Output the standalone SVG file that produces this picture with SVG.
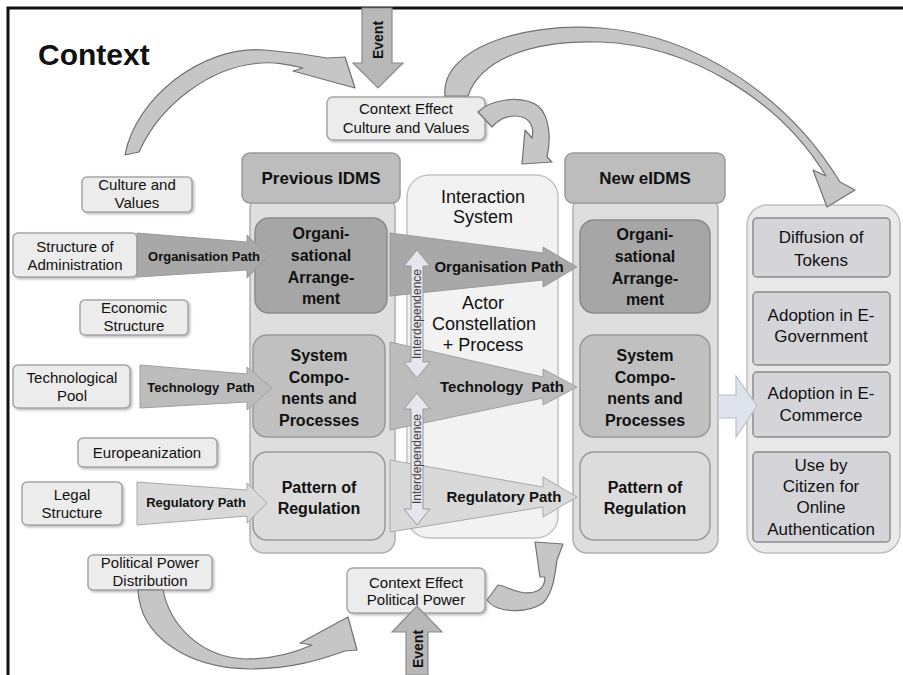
<svg xmlns="http://www.w3.org/2000/svg" width="903" height="675" viewBox="0 0 903 675">
  <defs>
    <filter id="shadow" x="-10%" y="-10%" width="130%" height="140%">
      <feDropShadow dx="1.5" dy="1.5" stdDeviation="1" flood-color="#888" flood-opacity="0.6"/>
    </filter>
    <style>
      text { font-family: "Liberation Sans", Arial, sans-serif; fill: #111; text-anchor: middle; }
      .t15 { font-size: 15px; }
      .t17 { font-size: 17px; }
      .t18 { font-size: 18px; }
      .b16 { font-size: 16px; font-weight: bold; }
      .b17 { font-size: 17px; font-weight: bold; }
      .lbl13 { font-size: 13px; font-weight: bold; }
      .lbl15 { font-size: 15px; font-weight: bold; }
      .dep { font-size: 12px; fill: #444; }
      .evt { font-size: 14px; font-weight: bold; }
      .ctx { fill: #ececec; stroke: #a6a6a6; stroke-width: 1.5; filter: url(#shadow); }
      .col { fill: #dedede; stroke: #b0b0b0; stroke-width: 1.5; }
      .hdr { fill: #bdbdbd; stroke: #999; stroke-width: 1.5; }
      .dark { fill: #a6a6a6; stroke: #8a8a8a; stroke-width: 1.5; }
      .mid { fill: #c0c0c0; stroke: #999; stroke-width: 1.5; }
      .light { fill: #dcdcdc; stroke: #9a9a9a; stroke-width: 1.5; }
      .inter { fill: #f2f2f2; stroke: #c4c4c4; stroke-width: 1.5; }
      .outc { fill: #e9e9e9; stroke: #c0c0c0; stroke-width: 1.5; }
      .outb { fill: #d5d5d9; stroke: #8c8c8c; stroke-width: 1.5; }
      .curve { fill: #c6c6c6; stroke: #727272; stroke-width: 1.2; stroke-linejoin: round; }
      .pdark { fill: #a8a8a8; stroke: #999; stroke-width: 1; }
      .pmid { fill: #bcbcbc; stroke: #a0a0a0; stroke-width: 1; }
      .plight { fill: #d9d9d9; stroke: #a8a8a8; stroke-width: 1; }
      .evarrow { fill: #b8b8b8; stroke: #8a8a8a; stroke-width: 1.2; }
      .dbl { fill: #e6e6ee; stroke: #999; stroke-width: 1; }
      .big { fill: #dfe4ec; stroke: #b8c0cc; stroke-width: 1.2; }
    </style>
  </defs>

  <rect width="903" height="675" fill="#fff"/>
  <!-- frame -->
  <path d="M8,675 V8 H903" fill="none" stroke="#111" stroke-width="3"/>

  <text x="38" y="65" style="font-size:30px;font-weight:bold;text-anchor:start">Context</text>

  <!-- context factors -->
  <g id="culture-values">
    <rect class="ctx" x="82" y="177" width="110" height="35" rx="5"/>
    <text class="t15" x="137" y="190">Culture and</text>
    <text class="t15" x="137" y="208">Values</text>
  </g>
  <g id="structure-administration">
    <rect class="ctx" x="13" y="233" width="124" height="44" rx="5"/>
    <text class="t15" x="75" y="252">Structure of</text>
    <text class="t15" x="75" y="270">Administration</text>
  </g>
  <g id="economic-structure">
    <rect class="ctx" x="80" y="300" width="108" height="35" rx="5"/>
    <text class="t15" x="134" y="313">Economic</text>
    <text class="t15" x="134" y="331">Structure</text>
  </g>
  <g id="technological-pool">
    <rect class="ctx" x="13" y="365" width="117" height="43" rx="5"/>
    <text class="t15" x="72" y="383">Technological</text>
    <text class="t15" x="72" y="401">Pool</text>
  </g>
  <g id="europeanization">
    <rect class="ctx" x="78" y="438" width="139" height="29" rx="5"/>
    <text class="t15" x="147" y="458">Europeanization</text>
  </g>
  <g id="legal-structure">
    <rect class="ctx" x="22" y="482" width="100" height="43" rx="5"/>
    <text class="t15" x="72" y="500">Legal</text>
    <text class="t15" x="72" y="518">Structure</text>
  </g>
  <g id="political-power-distribution">
    <rect class="ctx" x="88" y="555" width="124" height="35" rx="5"/>
    <text class="t15" x="150" y="568">Political Power</text>
    <text class="t15" x="150" y="586">Distribution</text>
  </g>
  <g id="effect-culture">
    <rect class="ctx" x="327" y="97" width="158" height="43" rx="6"/>
    <text class="t15" x="406" y="114">Context Effect</text>
    <text class="t15" x="406" y="133">Culture and Values</text>
  </g>
  <g id="effect-political">
    <rect class="ctx" x="347" y="568" width="138" height="45" rx="6"/>
    <text class="t15" x="416" y="588">Context Effect</text>
    <text class="t15" x="416" y="605">Political Power</text>
  </g>

  <!-- previous IDMS column -->
  <g id="previous-idms">
    <rect class="col" x="250" y="195" width="145" height="358" rx="14"/>
    <rect class="hdr" x="242" y="153" width="158" height="50" rx="8"/>
    <text class="b17" x="321" y="184">Previous IDMS</text>
  </g>
  <g id="prev-organisation">
    <rect class="dark" x="255" y="218" width="132" height="95" rx="14"/>
    <text class="b16" x="321" y="239">Organi-</text>
    <text class="b16" x="321" y="261">sational</text>
    <text class="b16" x="321" y="283">Arrange-</text>
    <text class="b16" x="321" y="304">ment</text>
  </g>
  <g id="prev-system">
    <rect class="mid" x="253" y="335" width="132" height="102" rx="14"/>
    <text class="b16" x="319" y="361">System</text>
    <text class="b16" x="319" y="383">Compo-</text>
    <text class="b16" x="319" y="404">nents and</text>
    <text class="b16" x="319" y="426">Processes</text>
  </g>
  <g id="prev-regulation">
    <rect class="light" x="253" y="452" width="132" height="88" rx="14"/>
    <text class="b16" x="319" y="493">Pattern of</text>
    <text class="b16" x="319" y="514">Regulation</text>
  </g>

  <!-- interaction system -->
  <g id="interaction-system">
    <rect class="inter" x="407" y="175" width="151" height="363" rx="22"/>
    <text class="t18" x="483" y="203">Interaction</text>
    <text class="t18" x="483" y="223">System</text>
    <text class="t18" x="483" y="309">Actor</text>
    <text class="t18" x="484" y="330">Constellation</text>
    <text class="t18" x="483" y="351">+ Process</text>
  </g>

  <!-- new eIDMS column -->
  <g id="new-eidms">
    <rect class="col" x="573" y="195" width="145" height="358" rx="14"/>
    <rect class="hdr" x="565" y="153" width="160" height="50" rx="8"/>
    <text class="b17" x="645" y="184">New eIDMS</text>
  </g>
  <g id="new-organisation">
    <rect class="dark" x="580" y="220" width="130" height="93" rx="14"/>
    <text class="b16" x="645" y="240">Organi-</text>
    <text class="b16" x="645" y="262">sational</text>
    <text class="b16" x="645" y="284">Arrange-</text>
    <text class="b16" x="645" y="305">ment</text>
  </g>
  <g id="new-system">
    <rect class="mid" x="580" y="335" width="130" height="102" rx="14"/>
    <text class="b16" x="645" y="361">System</text>
    <text class="b16" x="645" y="383">Compo-</text>
    <text class="b16" x="645" y="404">nents and</text>
    <text class="b16" x="645" y="426">Processes</text>
  </g>
  <g id="new-regulation">
    <rect class="light" x="580" y="452" width="130" height="88" rx="14"/>
    <text class="b16" x="645" y="493">Pattern of</text>
    <text class="b16" x="645" y="514">Regulation</text>
  </g>

  <!-- outcomes -->
  <g id="outcomes">
    <rect class="outc" x="747" y="205" width="153" height="348" rx="20"/>
  </g>
  <g id="diffusion-tokens">
    <rect class="outb" x="753" y="218" width="137" height="59" rx="4"/>
    <text class="t17" x="821" y="243">Diffusion of</text>
    <text class="t17" x="821" y="266">Tokens</text>
  </g>
  <g id="adoption-egov">
    <rect class="outb" x="753" y="292" width="137" height="73" rx="4"/>
    <text class="t17" x="821" y="321">Adoption in E-</text>
    <text class="t17" x="821" y="342">Government</text>
  </g>
  <g id="adoption-ecom">
    <rect class="outb" x="753" y="372" width="137" height="65" rx="4"/>
    <text class="t17" x="821" y="399">Adoption in E-</text>
    <text class="t17" x="821" y="421">Commerce</text>
  </g>
  <g id="citizen-use">
    <rect class="outb" x="753" y="452" width="137" height="90" rx="4"/>
    <text class="t17" x="821" y="471">Use by</text>
    <text class="t17" x="821" y="492">Citizen for</text>
    <text class="t17" x="821" y="513">Online</text>
    <text class="t17" x="821" y="535">Authentication</text>
  </g>

  <!-- connectors -->
  <g id="connectors">
    <!-- paths from context into previous IDMS -->
    <polygon class="pdark" points="137,233 247,242 247,235 268,256 247,278 247,270 137,277"/>
    <text class="lbl13" x="204" y="261">Organisation Path</text>
    <polygon class="pmid" points="140,365 247,374 247,367 272,388 247,410 247,402 140,408"/>
    <text class="lbl13" x="201" y="392" xml:space="preserve">Technology  Path</text>
    <polygon class="plight" points="137,482 247,490 247,483 267,503 247,523 247,516 137,525"/>
    <text class="lbl13" x="196" y="507">Regulatory Path</text>

    <!-- paths through the interaction system -->
    <polygon class="pdark" points="390,233 543,253 543,247 577,267 543,287 543,280 390,296"/>
    <text class="lbl15" x="499" y="272">Organisation Path</text>
    <polygon class="pmid" points="390,342 543,377 543,369 577,387 543,405 543,398 390,430"/>
    <text class="lbl15" x="502" y="392" xml:space="preserve">Technology  Path</text>
    <polygon class="plight" points="390,460 543,487 543,477 577,497 543,517 543,507 390,532"/>
    <text class="lbl15" x="504" y="502">Regulatory Path</text>

    <!-- interdependence arrows -->
    <polygon class="dbl" points="417,250 430,266 423,266 423,362 430,362 417,378 404,362 411,362 411,266 404,266"/>
    <text class="dep" transform="translate(417,314) rotate(-90)" x="0" y="4">Interdependence</text>
    <polygon class="dbl" points="417,393 430,409 423,409 423,509 430,509 417,525 404,509 411,509 411,409 404,409"/>
    <text class="dep" transform="translate(417,459) rotate(-90)" x="0" y="4">Interdependence</text>

    <!-- new eIDMS to outcomes -->
    <polygon class="big" points="718,395 736,395 736,376 757,406 736,437 736,418 718,418"/>

    <!-- events -->
    <polygon class="evarrow" points="362,8 392,8 392,63 403,63 378,88 353,63 362,63"/>
    <text class="evt" transform="translate(378,40) rotate(-90)" x="0" y="5">Event</text>
    <polygon class="evarrow" points="406,675 406,632 392,632 417,606 442,632 428,632 428,675"/>
    <text class="evt" transform="translate(418,649) rotate(-90)" x="0" y="5">Event</text>

    <!-- culture and values to context effect -->
    <path class="curve" d="M125,155 C135,100 200,45 265,50 C290,52 310,55 327,58 L345,57 L355,88 L293,71 L303,68 C285,64 275,62 262,63 C210,66 160,105 139,152 Z"/>
    <!-- context effect culture to outcomes -->
    <path class="curve" d="M445,96 C440,50 520,22 600,28 C700,35 790,100 840,182 L855,190 L827,207 L813,170 L826,176 C780,100 690,45 600,42 C530,40 480,60 468,96 Z"/>
    <!-- context effect culture to interaction system -->
    <path class="curve" d="M478,112 C490,100 520,94 538,106 C550,116 551,140 547,157 L552,162 L522,164 L525,130 L532,138 C535,125 528,116 515,116 C505,116 497,121 492,127 Z"/>
    <!-- political power distribution to context effect -->
    <path class="curve" d="M138,590 C140,635 185,668 250,669 C290,669 320,660 345,651 L357,650 L348,617 L300,643 L312,645 C290,655 265,659 245,659 C200,657 170,625 163,590 Z"/>
    <!-- context effect political to interaction system -->
    <path class="curve" d="M487,600 C495,612 525,615 543,603 C553,593 555,575 557,560 L563,544 L535,542 L540,577 L545,577 C545,590 535,595 520,592 C510,590 503,585 498,585 Z"/>
  </g>
</svg>
